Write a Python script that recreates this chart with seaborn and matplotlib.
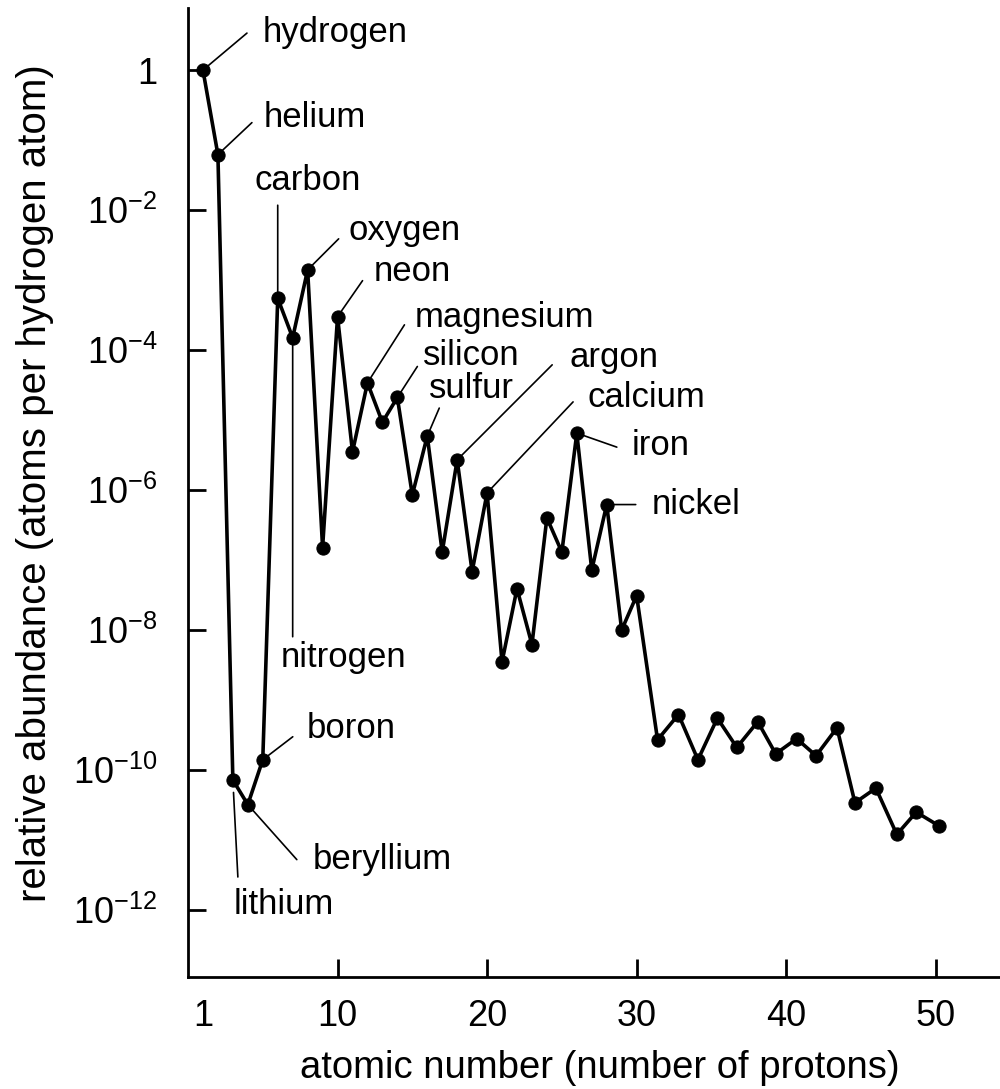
import matplotlib
matplotlib.use("Agg")
import matplotlib.pyplot as plt
import seaborn as sns
import pandas as pd

# atomic number and abundance relative to hydrogen
atomic_number = [1, 2, 3, 4, 5, 6, 7, 8, 9, 10,
                 11, 12, 13, 14, 15, 16, 17, 18, 19, 20,
                 21, 22, 23, 24, 25, 26, 27, 28, 29, 30,
                 31.4, 32.8, 34.1, 35.4, 36.7, 38.1, 39.3, 40.7, 42.0, 43.4,
                 44.6, 46.0, 47.4, 48.7, 50.2]
abundance = [1.0, 6.2e-2, 7.2e-11, 3.2e-11, 1.4e-10, 5.5e-4, 1.5e-4, 1.4e-3, 1.5e-7, 3.0e-4,
             3.5e-6, 3.4e-5, 9.3e-6, 2.1e-5, 8.5e-7, 5.9e-6, 1.3e-7, 2.7e-6, 6.8e-8, 9.1e-7,
             3.5e-9, 3.9e-8, 6.2e-9, 4.0e-7, 1.3e-7, 6.5e-6, 7.2e-8, 6.2e-7, 1.0e-8, 3.1e-8,
             2.7e-10, 6.2e-10, 1.4e-10, 5.5e-10, 2.1e-10, 4.9e-10, 1.7e-10, 2.8e-10, 1.6e-10, 4.0e-10,
             3.4e-11, 5.5e-11, 1.2e-11, 2.5e-11, 1.6e-11]

# labelled elements
element_names = ["hydrogen", "helium", "lithium", "beryllium", "boron", "carbon",
                 "nitrogen", "oxygen", "neon", "magnesium", "silicon", "sulfur",
                 "argon", "calcium", "iron", "nickel"]
element_z = [1, 2, 3, 4, 5, 6, 7, 8, 10, 12, 14, 16, 18, 20, 26, 28]

x_ticks = [1, 10, 20, 30, 40, 50]
x_tick_labels = ["1", "10", "20", "30", "40", "50"]
y_ticks = [1, 1e-2, 1e-4, 1e-6, 1e-8, 1e-10, 1e-12]
y_tick_labels = ["1", r"$\mathdefault{10^{-2}}$", r"$\mathdefault{10^{-4}}$",
                 r"$\mathdefault{10^{-6}}$", r"$\mathdefault{10^{-8}}$",
                 r"$\mathdefault{10^{-10}}$", r"$\mathdefault{10^{-12}}$"]

df = pd.DataFrame({"z": atomic_number, "abundance": abundance})

sns.set_style("white")
plt.rcParams["font.family"] = ["Liberation Sans", "DejaVu Sans"]
plt.rcParams["mathtext.fontset"] = "custom"
plt.rcParams["mathtext.rm"] = "Liberation Sans"
for key in ["text.color", "axes.labelcolor", "xtick.color", "ytick.color"]:
    plt.rcParams[key] = "black"

fig = plt.figure(figsize=(10, 10.89), dpi=100)
ax = fig.add_axes([0.188, 0.1028, 0.812, 0.8898])

sns.lineplot(data=df, x="z", y="abundance", ax=ax, color="black", lw=2.6,
             marker="o", markersize=9.5, markeredgecolor="black", sort=False)
ax.set_yscale("log")
ax.set_xlim(0, 54.3)
ax.set_ylim(1.1e-13, 7.7)

# leader line end, text position (offset pixels from the point), line gap at point
layout = {
    "hydrogen": ((44, 37), (60, 38), 0),
    "helium": ((34, 32), (46, 37), 0),
    "lithium": ((5, -97), (1, -125), 9),
    "beryllium": ((49, -55), (65, -55), 0),
    "boron": ((30, 23), (44, 31), 0),
    "carbon": ((0, 93), (-23, 118), 0),
    "nitrogen": ((0, -299), (-12, -320), 0),
    "oxygen": ((31, 31), (41, 39), 0),
    "neon": ((25, 36), (36, 45), 0),
    "magnesium": ((37, 58), (47, 65), 0),
    "silicon": ((20, 31), (26, 42), 0),
    "sulfur": ((12, 28), (2, 48), 0),
    "argon": ((95, 95), (112, 102), 0),
    "calcium": ((86, 91), (100, 95), 0),
    "iron": ((40, -14), (55, -12), 0),
    "nickel": ((29, 0), (45, 0), 0),
}
for name, z in zip(element_names, element_z):
    y = abundance[atomic_number.index(z)]
    line_end, text_pos, gap = layout[name]
    ax.annotate("", xy=(z, y), xytext=line_end, textcoords="offset pixels",
                arrowprops=dict(arrowstyle="-", color="black", lw=1.2,
                                shrinkA=0, shrinkB=gap))
    ax.annotate(name, xy=(z, y), xytext=text_pos, textcoords="offset pixels",
                ha="left", va="center", fontsize=25, color="black")

ax.set_xticks(x_ticks)
ax.set_xticklabels(x_tick_labels)
ax.set_yticks(y_ticks)
ax.set_yticklabels(y_tick_labels)
ax.minorticks_off()
ax.tick_params(axis="both", which="major", bottom=True, left=True, direction="in",
               length=13, width=2, labelsize=26, color="black", labelcolor="black")
ax.tick_params(axis="x", pad=16)
ax.tick_params(axis="y", pad=22)
ax.xaxis.get_major_ticks()[0].tick1line.set_visible(False)

sns.despine(ax=ax)
for side in ["left", "bottom"]:
    ax.spines[side].set_linewidth(2)
    ax.spines[side].set_color("black")

ax.set_xlabel("atomic number (number of protons)", fontsize=27.5)
ax.set_ylabel("relative abundance (atoms per hydrogen atom)", fontsize=29)
ax.xaxis.set_label_coords(0.507, -0.075)
ax.yaxis.set_label_coords(-0.165, 0.51)

fig.savefig("out.png", dpi=100)
